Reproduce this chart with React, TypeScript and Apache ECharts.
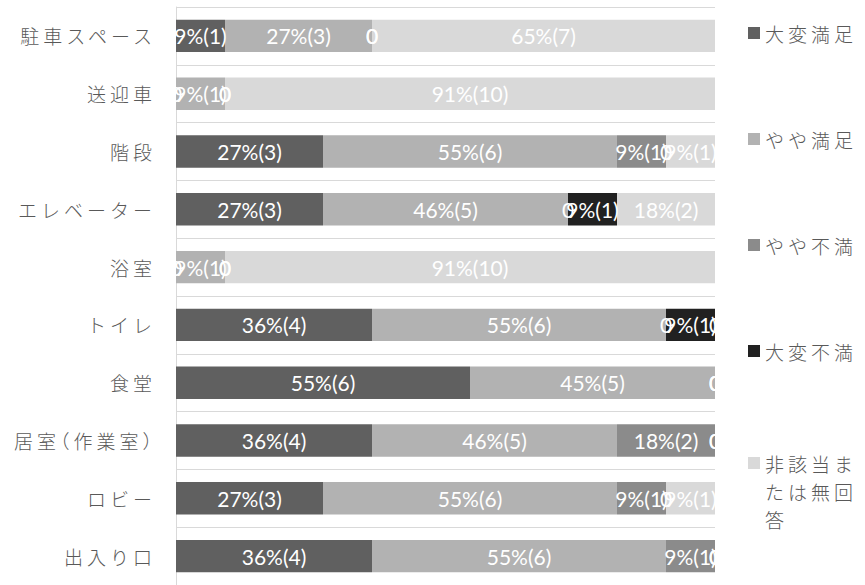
import React, { useEffect, useRef } from 'react';
import * as echarts from 'echarts';

const categories = [
  '駐車スペース',
  '送迎車',
  '階段',
  'エレベーター',
  '浴室',
  'トイレ',
  '食堂',
  '居室（作業室）',
  'ロビー',
  '出入り口',
];

const seriesNames = ['大変満足', 'やや満足', 'やや不満', '大変不満', '非該当または無回答'];

// counts (respondents)
const verySatisfiedCount = [1, 0, 3, 3, 0, 4, 6, 4, 3, 4];
const satisfiedCount = [3, 1, 6, 5, 1, 6, 5, 5, 6, 6];
const dissatisfiedCount = [0, 0, 1, 0, 0, 0, 0, 2, 1, 1];
const veryDissatisfiedCount = [0, 0, 0, 1, 0, 1, 0, 0, 0, 0];
const notApplicableCount = [7, 10, 1, 2, 10, 0, 0, 0, 1, 0];

// percentages as printed on the labels
const verySatisfiedPct = [9, 0, 27, 27, 0, 36, 55, 36, 27, 36];
const satisfiedPct = [27, 9, 55, 46, 9, 55, 45, 46, 55, 55];
const dissatisfiedPct = [0, 0, 9, 0, 0, 0, 0, 18, 9, 9];
const veryDissatisfiedPct = [0, 0, 0, 9, 0, 9, 0, 0, 0, 0];
const notApplicablePct = [65, 91, 9, 18, 91, 0, 0, 0, 9, 0];

const colors = ['#606060', '#b2b2b2', '#8b8b8b', '#212121', '#d9d9d9'];

const SPACING_CSS =
  '#chart-root svg text:not([text-anchor="middle"]) { letter-spacing: 4px; }' +
  '#chart-root svg text[text-anchor="end"] { font-feature-settings: "halt" 1; }';

export default function App() {
  const ref = useRef<HTMLDivElement>(null);

  useEffect(() => {
    if (!ref.current) return;
    const chart = echarts.init(ref.current, null, { renderer: 'svg' });
    const counts = [
      verySatisfiedCount,
      satisfiedCount,
      dissatisfiedCount,
      veryDissatisfiedCount,
      notApplicableCount,
    ];
    const pcts = [
      verySatisfiedPct,
      satisfiedPct,
      dissatisfiedPct,
      veryDissatisfiedPct,
      notApplicablePct,
    ];

    const GRID_LEFT = 176;
    const GRID_TOP = 7;
    const GRID_W = 539;
    const GRID_H = 582;
    const jpFont = '"Noto Sans CJK JP", "Noto Sans", sans-serif';
    const wrap4 = (n: string) => (n.match(/.{1,4}/g) || [n]).join('\n');
    const legendText = {
      color: '#595959',
      fontSize: 19,
      fontWeight: 300,
      fontFamily: jpFont,
      lineHeight: 28,
    };

    chart.setOption({
      animation: false,
      grid: { left: GRID_LEFT, top: GRID_TOP, width: GRID_W, height: GRID_H, containLabel: false },
      xAxis: { type: 'value', min: 0, max: 'dataMax', show: false },
      yAxis: {
        type: 'category',
        inverse: true,
        data: categories,
        axisLine: { show: true, lineStyle: { color: '#d9d9d9', width: 1 } },
        axisTick: { show: false },
        splitLine: { show: true, lineStyle: { color: '#d9d9d9', width: 1 } },
        axisLabel: {
          color: '#595959',
          fontSize: 19,
          fontWeight: 300,
          fontFamily: jpFont,
          margin: 20,
        },
      },
      legend: [
        {
          data: seriesNames.slice(0, 4),
          orient: 'vertical',
          left: 748,
          top: 19,
          padding: 0,
          icon: 'rect',
          itemWidth: 12,
          itemHeight: 12,
          itemGap: 78,
          selectedMode: false,
          textStyle: legendText,
        },
        {
          data: seriesNames.slice(4),
          orient: 'vertical',
          left: 748,
          top: 393,
          padding: 0,
          icon: 'rect',
          itemWidth: 12,
          itemHeight: 12,
          selectedMode: false,
          formatter: (n: string) => '\n\n' + wrap4(n),
          textStyle: legendText,
        },
      ],
      series: seriesNames.map((name, i) => ({
        name,
        type: 'bar',
        stack: 'total',
        barCategoryGap: '44%',
        data: counts[i],
        itemStyle: { color: colors[i] },
        label: {
          show: true,
          position: 'inside',
          color: '#ffffff',
          fontFamily: 'Lato, "Open Sans", sans-serif',
          fontSize: 21,
          formatter: (p: any) => {
            const c = counts[i][p.dataIndex];
            return c === 0 ? '0' : `${pcts[i][p.dataIndex]}%(${c})`;
          },
        },
      })),
      graphic: [
        {
          type: 'rect',
          z: 100,
          silent: true,
          shape: { x: GRID_LEFT + GRID_W + 0.5, y: 0, width: 30, height: 585 },
          style: { fill: '#ffffff' },
        },
        {
          type: 'rect',
          z: 100,
          silent: true,
          shape: { x: GRID_LEFT - 16, y: 0, width: 15.5, height: 585 },
          style: { fill: '#ffffff' },
        },
      ],
    });
    return () => chart.dispose();
  }, []);

  return (
    <>
      <style>{SPACING_CSS}</style>
      <div
        id="chart-root"
        ref={ref}
        style={{ position: 'absolute', left: 0, top: 0, width: 865, height: 585 }}
      />
    </>
  );
}
